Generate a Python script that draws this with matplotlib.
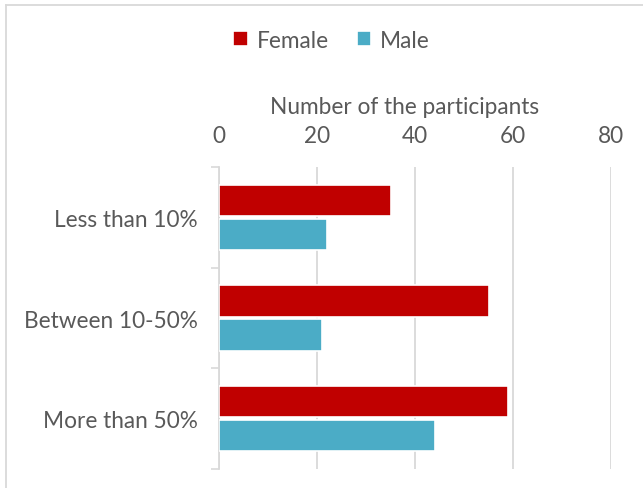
import numpy as np
import matplotlib
matplotlib.use("Agg")
import matplotlib.pyplot as plt
from matplotlib.lines import Line2D

# Datos
categories = ["Less than 10%", "Between 10-50%", "More than 50%"]
female = [35, 55, 59]
male = [22, 21, 44]
series_names = ["Female", "Male"]
x_ticks = [0, 20, 40, 60, 80]

c_female = "#C00000"
c_male = "#4BACC6"
c_text = "#595959"
c_grid = "#D9D9D9"
fs = 16.3

plt.rcParams['font.family'] = ['Lato', 'DejaVu Sans']

fig = plt.figure(figsize=(6.43, 4.89), dpi=100)
ax = fig.add_axes([219/643, 1 - 470/489, 392/643, 302/489])

y = np.arange(len(categories))
h = 0.31
ax.barh(y - 0.168, female, height=h, color=c_female, edgecolor="white",
        linewidth=1.2, label=series_names[0], zorder=3)
ax.barh(y + 0.168, male, height=h, color=c_male, edgecolor="white",
        linewidth=1.2, label=series_names[1], zorder=3)

ax.set_xlim(0, 80)
ax.set_ylim(len(categories) - 0.5, -0.5)
ax.xaxis.tick_top()
ax.xaxis.set_label_position("top")
ax.set_xticks(x_ticks)
ax.set_xticklabels([str(t) for t in x_ticks])
ax.set_yticks(y)
ax.set_yticklabels(categories)
ax.set_yticks(np.arange(-0.5, len(categories)), minor=True)

ax.tick_params(axis="x", length=0, pad=15, labelsize=fs, colors=c_text)
ax.tick_params(axis="y", which="major", length=0, pad=15.5, labelsize=fs, colors=c_text)
ax.tick_params(axis="y", which="minor", length=5.5, width=1.2, color=c_grid)

ax.grid(axis="x", color=c_grid, linewidth=1.3, zorder=0)
ax.set_axisbelow(True)
for s in ["top", "right", "bottom"]:
    ax.spines[s].set_visible(False)
ax.spines["left"].set_color(c_grid)
ax.spines["left"].set_linewidth(1.3)

ax.set_xlabel("Number of the participants", fontsize=fs, color=c_text)
ax.xaxis.set_label_coords(0.474, 1.18)

fig.legend(loc="center", bbox_to_anchor=(0.516, 1 - 41/489), ncol=2,
           frameon=False, fontsize=fs, labelcolor=c_text,
           handlelength=0.65, handleheight=0.65, handletextpad=0.4,
           columnspacing=1.2)

# borde del gráfico (solo arriba e izquierda visibles)
fig.add_artist(Line2D([6/643, 6/643], [0, 1 - 6/489], transform=fig.transFigure,
                      color=c_grid, linewidth=1.3))
fig.add_artist(Line2D([6/643, 1], [1 - 6/489, 1 - 6/489], transform=fig.transFigure,
                      color=c_grid, linewidth=1.3))

fig.savefig("out.png", dpi=100)
